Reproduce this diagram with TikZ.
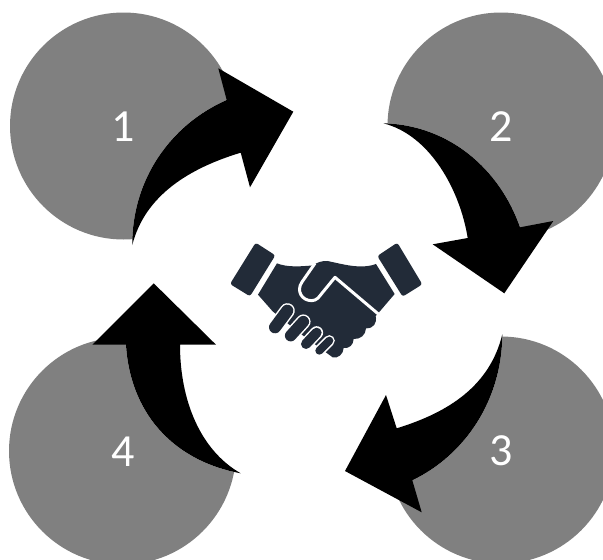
\documentclass[tikz,border=0pt]{standalone}
\usepackage{fontspec}
\setmainfont{Carlito}
\definecolor{disc}{HTML}{808080}
\definecolor{icon}{HTML}{222B38}
\tikzset{
  numdisc/.style={circle,fill=disc,draw=none,inner sep=0pt,minimum size=227pt,text=white},
  numtext/.style={text=white,inner sep=0pt,font=\fontsize{46}{46}\selectfont},
  bigarrow/.style={fill=black,draw=none},
  cutout/.style={fill=white,draw=none},
  cuff/.style={fill=icon,draw=none,rounded corners=2.5pt},
  fingerback/.style={draw=white,line cap=round},
  fingerfront/.style={draw=icon,line cap=round}
}
\begin{document}
\begin{tikzpicture}[x=1pt,y=-1pt]
\fill[white] (0,0) rectangle (603,560);
\clip (0,0) rectangle (603,560);
\node[numdisc] (c1) at (123.5,126) {};
\node[numdisc] (c2) at (501,126) {};
\node[numdisc] (c3) at (501,450) {};
\node[numdisc] (c4) at (122.5,451) {};
% white cut-outs along the outer curves
\fill[cutout] (132.3,245) .. controls (132,180) and (170,125) .. (226.7,100) -- (300,100) -- (300,250) -- (132.3,250) -- cycle;
\fill[cutout] (383.3,123.3) .. controls (450,125) and (500,170) .. (520,227.3) -- (504.3,293.3) -- (380,293.3) -- (380,123.3) -- cycle;
\fill[cutout] (502.3,334.3) .. controls (502,400) and (465,455) .. (412.3,480.3) -- (345,471) -- (345,334.3) -- cycle;
\fill[cutout] (240.7,473.3) .. controls (170,460) and (130,410) .. (126,344.7) -- (126,300) -- (250,300) -- (250,473.3) -- cycle;
\node[numtext] (t1) at (123.5,127) {1};
\node[numtext] (t2) at (501,127) {2};
\node[numtext] (t3) at (501,451) {3};
\node[numtext] (t4) at (123,452) {4};
% arrows
\fill[bigarrow] (132.3,245) .. controls (132,180) and (170,125) .. (226.7,100)
  -- (218.3,68.3) -- (293.3,111.7) -- (250,187.3) -- (240.7,152.7)
  .. controls (190,168) and (145,195) .. (132.3,245) -- cycle;
\fill[bigarrow] (383.3,123.3) .. controls (450,125) and (500,170) .. (520,227.3)
  -- (553.3,221) -- (504.3,293.3) -- (432.7,244.3) -- (467.7,238)
  .. controls (460,190) and (430,135) .. (383.3,123.3) -- cycle;
\fill[bigarrow] (502.3,334.3) .. controls (502,400) and (465,455) .. (412.3,480.3)
  -- (421.7,512.3) -- (345,471) -- (386,395) -- (396.7,428.3)
  .. controls (450,412) and (490,385) .. (502.3,334.3) -- cycle;
\fill[bigarrow] (240.7,473.3) .. controls (170,460) and (130,410) .. (126,344.7)
  -- (92.3,344.7) -- (153.7,283.3) -- (216,344.7) -- (180,344.7)
  .. controls (180,400) and (200,450) .. (240.7,473.3) -- cycle;
% handshake icon (coordinates in 3x units)
\begin{scope}[shift={(200,220)},x=0.3333pt,y=-0.3333pt]
  \fill[cuff] (167,68) -- (226,106) -- (150,229) -- (90,192) -- cycle;
  \fill[cuff] (592,68) -- (667,193) -- (608,230) -- (532,108) -- cycle;
  % body
  \fill[icon] (231,130) .. controls (260,142) and (300,140) .. (340,136)
    .. controls (350,128) and (365,122) .. (382,123)
    .. controls (420,130) and (480,150) .. (528,132)
    -- (584,222) -- (537,277) -- (527,288)
    .. controls (532,310) and (520,326) .. (498,325)
    .. controls (497,345) and (482,358) .. (461,357)
    .. controls (460,375) and (448,386) .. (431,384)
    .. controls (430,402) and (415,416) .. (398,412)
    -- (300,340) -- (218,274) -- (174,224) -- cycle;
  % white thumb outline
  \draw[white,line width=3pt,line join=round,line cap=butt]
    (345,130) -- (306,186) .. controls (288,212) and (305,242) .. (335,242)
    .. controls (350,242) and (358,230) .. (364,222) -- (405,172) -- (535,282);
  % fingers
  \draw[fingerback,line width=15pt] (262,272) -- (225,322);
  \draw[fingerfront,line width=12pt] (262,272) -- (225,322);
  \draw[fingerback,line width=14.5pt] (310,305) -- (272,347);
  \draw[fingerfront,line width=11.5pt] (310,305) -- (272,347);
  \draw[fingerback,line width=13pt] (350,338) -- (318,372);
  \draw[fingerfront,line width=10pt] (350,338) -- (318,372);
  \draw[fingerback,line width=11pt] (388,362) -- (358,392);
  \draw[fingerfront,line width=8pt] (388,362) -- (358,392);
\end{scope}
\end{tikzpicture}
\end{document}
